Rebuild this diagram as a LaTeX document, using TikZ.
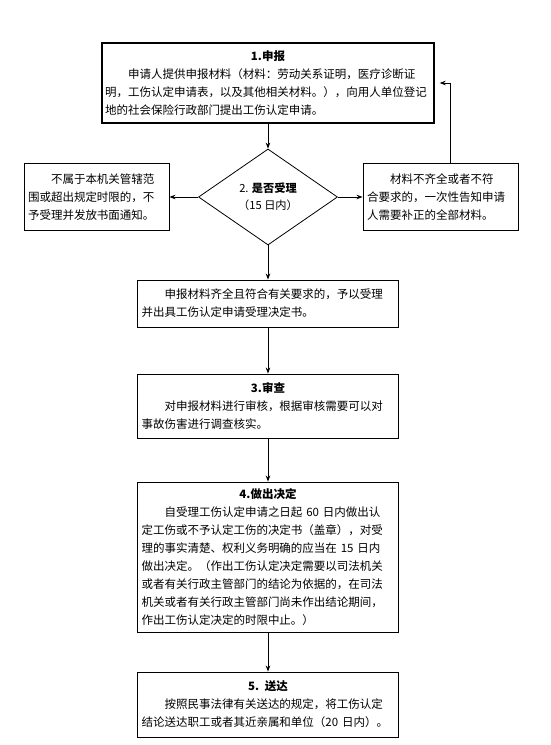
\documentclass[tikz,border=0pt]{standalone}
\usepackage{fontspec}
\setmainfont{Noto Sans CJK SC}
\usetikzlibrary{shapes.geometric,arrows.meta}
\newcommand\boxtitle[1]{\hbox to \hsize{\hfil\bfseries #1\hfil}}
\begin{document}
\begin{tikzpicture}[x=1pt,y=-1pt,
  box/.style={draw, line width=0.9pt, rectangle, inner xsep=4pt, inner ysep=0pt, align=left,
    font=\fontsize{11.5}{18}\selectfont},
  arr/.style={-{Stealth[length=6pt,width=4.5pt]}, line width=0.8pt}]
\useasboundingbox (0,0) rectangle (551,745);
\fill[white] (0,0) rectangle (551,745);

\node[box, line width=1.4pt, inner xsep=3pt, text width=326pt, minimum height=80pt] (b1) at (268,83)
 {\boxtitle{1.申报}\\\hspace*{2em}申请人提供申报材料（材料：劳动关系证明，医疗诊断证\\明，工伤认定申请表，以及其他相关材料。），向用人单位登记\\地的社会保险行政部门提出工伤认定申请。};

\node[draw, diamond, shape aspect=1.45, line width=0.8pt, minimum width=139pt, minimum height=96pt,
  inner sep=0pt, align=center, font=\fontsize{11.2}{17}\selectfont] (dia) at (268,197)
 {2. \textbf{是否受理}\\（15 日内）};

\node[box, text width=137pt, minimum height=67pt] (lbox) at (96.5,197)
 {\hspace*{2em}不属于本机关管辖范\\围或超出规定时限的，不\\予受理并发放书面通知。};

\node[box, text width=147pt, minimum height=67pt] (rbox) at (440.5,197)
 {\hspace*{2em}材料不齐全或者不符\\合要求的，一次性告知申请\\人需要补正的全部材料。};

\node[box, text width=253pt, minimum height=47pt] (bA) at (268,303.5)
 {\hspace*{2em}申报材料齐全且符合有关要求的，予以受理\\并出具工伤认定申请受理决定书。};

\node[box, text width=253pt, minimum height=64pt] (b3) at (268,406)
 {\boxtitle{3.审查}\\\hspace*{2em}对申报材料进行审核，根据审核需要可以对\\事故伤害进行调查核实。};

\node[box, text width=253pt, minimum height=150pt] (b4) at (268,557)
 {\boxtitle{4.做出决定}\\\hspace*{2em}自受理工伤认定申请之日起 60 日内做出认\\定工伤或不予认定工伤的决定书（盖章），对受\\理的事实清楚、权利义务明确的应当在 15 日内\\做出决定。（作出工伤认定决定需要以司法机关\\或者有关行政主管部门的结论为依据的，在司法\\机关或者有关行政主管部门尚未作出结论期间，\\作出工伤认定决定的时限中止。）};

\node[box, text width=253pt, minimum height=65pt] (b5) at (268,704.5)
 {\boxtitle{5. 送达}\\\hspace*{2em}按照民事法律有关送达的规定，将工伤认定\\结论送达职工或者其近亲属和单位（20 日内）。};

\draw[arr] (b1.south) -- (dia.north);
\draw[arr] (dia.west) -- (lbox.east);
\draw[arr] (dia.east) -- (rbox.west);
\draw[arr] (dia.south) -- (bA.north);
\draw[arr] (bA.south) -- (b3.north);
\draw[arr] (b3.south) -- (b4.north);
\draw[arr] (b4.south) -- (b5.north);
\coordinate (fb) at (450,0);
\draw[arr, shorten >=5pt] (rbox.north -| fb) |- (b1.east);
\end{tikzpicture}
\end{document}
